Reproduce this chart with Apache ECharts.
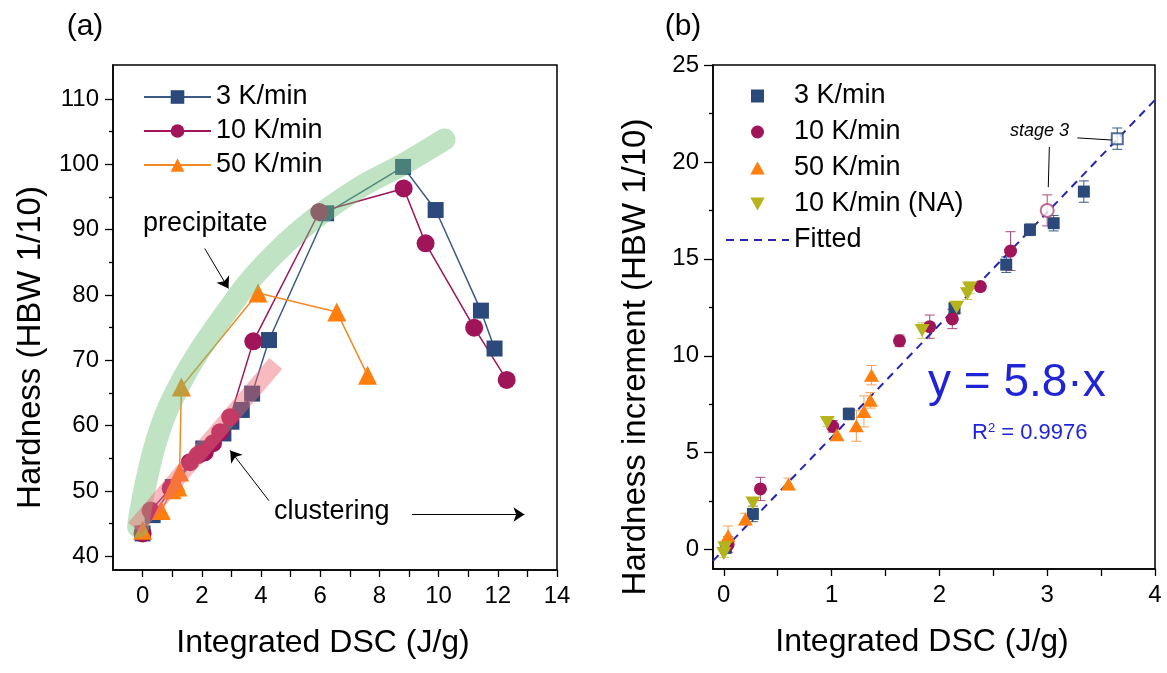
<!DOCTYPE html>
<html>
<head>
<meta charset="utf-8">
<script src="https://cdn.jsdelivr.net/npm/echarts@6/dist/echarts.min.js"></script>
<style>
  html, body { margin: 0; padding: 0; background: #fff; }
  #chart { width: 1167px; height: 673px; }
</style>
</head>
<body>
<div id="chart"></div>
<script>
// ---------- panel (a): hardness vs integrated DSC ----------
const k3X  = [0, 0.34, 1.02, 2.05, 2.73, 3.0, 3.35, 3.7, 4.27, 6.2, 8.8, 9.9, 11.43, 11.89];
const k3Y  = [43.5, 46.3, 50.6, 56.5, 58.8, 60.6, 62.4, 64.9, 73.1, 92.5, 99.6, 93.0, 77.6, 71.8];
const k10X = [0, 0.27, 0.95, 1.6, 1.87, 2.1, 2.38, 2.62, 2.96, 3.74, 5.97, 8.82, 9.56, 11.2, 12.3];
const k10Y = [43.5, 47.0, 50.4, 54.4, 55.5, 55.9, 57.3, 59.0, 61.3, 72.9, 92.7, 96.3, 87.9, 75.0, 67.0];
const k50X = [0, 0.63, 1.0, 1.12, 1.19, 1.25, 1.31, 3.9, 6.56, 7.6];
const k50Y = [44.0, 47.0, 50.2, 51.4, 50.6, 52.9, 65.9, 80.3, 77.4, 67.7];
// shaded guide bands
const greenBandX = [-0.15, -0.08, 0.1, 0.4, 0.8, 1.4, 2.0, 2.8, 3.5, 4.4, 5.3, 6.2, 7.5, 8.8, 10.2];
const greenBandY = [44.5, 46.8, 51, 56.7, 62, 67.5, 72, 77.2, 81.5, 86, 89.8, 93, 96.9, 100, 103.8];
const pinkBandX = [-0.27, 4.5];
const pinkBandY = [44.3, 69.5];
const aMajorY = [40, 50, 60, 70, 80, 90, 100, 110];
const aMinorY = [45, 55, 65, 75, 85, 95, 105];
const aTickX  = [0, 1, 2, 3, 4, 5, 6, 7, 8, 9, 10, 11, 12, 13, 14];
const aLabelX = [0, 2, 4, 6, 8, 10, 12, 14];

// ---------- panel (b): hardness increment vs integrated DSC ----------
// [x, y, error]
const b3  = [[0.02, 0.1, 0.3], [0.27, 1.84, 0.4], [1.16, 7.0, 0.3], [2.14, 12.45, 0.3],
             [2.62, 14.7, 0.4], [2.84, 16.5, 0.3], [3.06, 16.84, 0.4], [3.34, 18.47, 0.55]];
const b3Stage  = [[3.65, 21.2, 0.55]];
const b10 = [[0.04, 0.26, 0.4], [0.34, 3.13, 0.6], [1.01, 6.36, 0.3], [1.63, 10.77, 0.3],
             [1.91, 11.5, 0.6], [2.12, 11.9, 0.5], [2.38, 13.57, 0.2], [2.66, 15.4, 1.0]];
const b10Stage = [[3.0, 17.5, 0.8]];
const b50 = [[0.04, 0.72, 0.5], [0.2, 1.58, 0.3], [0.6, 3.39, 0.3], [1.05, 5.93, 0.3],
             [1.23, 6.39, 0.8], [1.30, 7.13, 0.8], [1.36, 7.7, 0.4], [1.37, 9.0, 0.5]];
const bNA = [[0.0, -0.2, 0.2], [0.01, 0.1, 0.2], [0.27, 2.41, 0.2], [0.96, 6.56, 0.2],
             [1.84, 11.3, 0.4], [2.16, 12.5, 0.3], [2.26, 13.2, 0.3], [2.28, 13.5, 0.3]];
const fitLine = [[-0.1, -0.58], [4.0, 23.2]];
const bMajorY = [0, 5, 10, 15, 20, 25];
const bMinorY = [2.5, 7.5, 12.5, 17.5, 22.5];
const bTickX  = [0, 0.5, 1, 1.5, 2, 2.5, 3, 3.5, 4];
const bLabelX = [0, 1, 2, 3, 4];

const FONT = 'Liberation Sans';
const zip = (xs, ys) => xs.map((x, i) => [x, ys[i]]);

const C3 = '#2b4a7b', C10 = '#a0145a', C50 = '#ff7f0e', CNA = '#b5b41c';
const square  = 'path://M0,0 L10,0 L10,10 L0,10 Z';
const upTri   = 'path://M5,0 L10,9 L0,9 Z';
const downTri = 'path://M0,0 L10,0 L5,9 Z';

function baseX(gridIndex, min, max, ticks, labels) {
    return {
        type: 'value', gridIndex, min, max,
        name: 'Integrated DSC (J/g)', nameLocation: 'middle', nameGap: 57,
        nameTextStyle: { fontSize: 32, color: '#000', fontFamily: FONT, padding: [0, 24, 0, 0] },
        axisLine: { onZero: false, lineStyle: { color: '#000', width: 1.5 } },
        axisTick: { customValues: ticks, length: 7, lineStyle: { color: '#000', width: 1.3 } },
        axisLabel: { customValues: labels, fontSize: 24, color: '#000', fontFamily: FONT, margin: 14 },
        splitLine: { show: false }
    };
}
function baseY(gridIndex, min, max, ticks, name, gap, len, shift) {
    return {
        type: 'value', gridIndex, min, max, position: 'left',
        name, nameLocation: 'middle', nameGap: gap,
        nameTextStyle: { fontSize: 33, color: '#000', fontFamily: FONT, padding: [0, shift, 0, 0] },
        axisLine: { onZero: false, lineStyle: { color: '#000', width: 1.5 } },
        axisTick: { customValues: ticks, length: len, lineStyle: { color: '#000', width: 1.3 } },
        axisLabel: { customValues: ticks, fontSize: 24, color: '#000', fontFamily: FONT, margin: 14 },
        splitLine: { show: false }
    };
}
function minorY(gridIndex, min, max, ticks) {
    return {
        type: 'value', gridIndex, min, max, position: 'left',
        axisLine: { show: false, onZero: false },
        axisTick: { customValues: ticks, length: 4, lineStyle: { color: '#000', width: 1.3 } },
        axisLabel: { show: false },
        splitLine: { show: false }
    };
}

function errBars(color) {
    return function (params, api) {
        const x = api.value(0), y = api.value(1), e = api.value(2);
        const t = api.coord([x, y + e]), b = api.coord([x, y - e]);
        const w = 5;
        const st = { stroke: color, lineWidth: 1 };
        return {
            type: 'group', children: [
                { type: 'line', shape: { x1: t[0], y1: t[1], x2: b[0], y2: b[1] }, style: st },
                { type: 'line', shape: { x1: t[0] - w, y1: t[1], x2: t[0] + w, y2: t[1] }, style: st },
                { type: 'line', shape: { x1: b[0] - w, y1: b[1], x2: b[0] + w, y2: b[1] }, style: st }
            ]
        };
    };
}
function errSeries(data, color) {
    return {
        type: 'custom', xAxisIndex: 1, yAxisIndex: 2, data, silent: true, z: 1,
        encode: { x: 0, y: 1 }, renderItem: errBars(color)
    };
}

const chart = echarts.init(document.getElementById('chart'));
chart.setOption({
    animation: false,
    backgroundColor: '#fff',
    textStyle: { fontFamily: FONT },
    grid: [
        { left: 113, right: 610, top: 65, bottom: 103, show: true, borderColor: '#000', borderWidth: 1.5 },
        { left: 713, right: 12, top: 65, bottom: 104, show: true, borderColor: '#000', borderWidth: 1.5 }
    ],
    xAxis: [
        baseX(0, -1, 14, aTickX, aLabelX),
        baseX(1, -0.1, 4, bTickX, bLabelX)
    ],
    yAxis: [
        baseY(0, 37.9, 115.2, aMajorY, 'Hardness (HBW 1/10)', 66, 8, 60),
        minorY(0, 37.9, 115.2, aMinorY),
        baseY(1, -1, 25, bMajorY, 'Hardness increment (HBW 1/10)', 61, 9, 80),
        minorY(1, -1, 25, bMinorY)
    ],
    legend: [
        {
            orient: 'vertical', left: 138, top: 77, itemWidth: 67, itemHeight: 17, itemGap: 4,
            data: ['3 K/min', '10 K/min', '50 K/min'],
            textStyle: { fontSize: 27, color: '#000', fontFamily: FONT, lineHeight: 30 }
        },
        {
            orient: 'vertical', left: 720, top: 75, itemWidth: 63, itemHeight: 13, itemGap: 4,
            data: ['b:3 K/min', 'b:10 K/min', 'b:50 K/min', 'b:10 K/min (NA)',
                   { name: 'b:Fitted', itemStyle: { opacity: 0 } }],
            formatter: n => n.replace('b:', ''),
            textStyle: { fontSize: 27, color: '#000', fontFamily: FONT, lineHeight: 32 }
        }
    ],
    graphic: [
        { type: 'text', x: 85, y: 27, style: { text: '(a)', fontSize: 30, fontFamily: FONT, fill: '#000', align: 'center', verticalAlign: 'middle' } },
        { type: 'text', x: 683, y: 27, style: { text: '(b)', fontSize: 30, fontFamily: FONT, fill: '#000', align: 'center', verticalAlign: 'middle' } },
        { type: 'text', x: 143, y: 224, style: { text: 'precipitate', fontSize: 27, fontFamily: FONT, fill: '#000', align: 'left', verticalAlign: 'middle' } },
        { type: 'text', x: 274, y: 512, style: { text: 'clustering', fontSize: 27, fontFamily: FONT, fill: '#000', align: 'left', verticalAlign: 'middle' } },
        { type: 'text', x: 1010, y: 131, style: { text: 'stage 3', fontSize: 18, fontStyle: 'italic', fontFamily: FONT, fill: '#000', align: 'left', verticalAlign: 'middle' } },
        { type: 'text', x: 928, y: 383, style: { text: 'y = 5.8·x', fontSize: 46, fontFamily: FONT, fill: '#1f24d6', align: 'left', verticalAlign: 'middle' } },
        {
            type: 'text', x: 972, y: 433, style: {
                text: '{a|R}{s|2}{a| = 0.9976}', fontFamily: FONT, fill: '#1f24d6', align: 'left', verticalAlign: 'middle',
                rich: {
                    a: { fontSize: 22, fontFamily: FONT, fill: '#1f24d6' },
                    s: { fontSize: 13, fontFamily: FONT, fill: '#1f24d6', verticalAlign: 'top' }
                }
            }
        }
    ],
    series: [
        // ---- panel (a)
        {
            name: '3 K/min', type: 'line', xAxisIndex: 0, yAxisIndex: 0, data: zip(k3X, k3Y),
            symbol: 'rect', symbolSize: 16, itemStyle: { color: C3 },
            lineStyle: { color: '#3a5a82', width: 1.5 }, z: 3
        },
        {
            name: '10 K/min', type: 'line', xAxisIndex: 0, yAxisIndex: 0, data: zip(k10X, k10Y),
            symbol: 'circle', symbolSize: 18, itemStyle: { color: C10 },
            lineStyle: { color: C10, width: 1.5 }, z: 3
        },
        {
            name: '50 K/min', type: 'line', xAxisIndex: 0, yAxisIndex: 0, data: zip(k50X, k50Y),
            symbol: 'triangle', symbolSize: 19, itemStyle: { color: C50 },
            lineStyle: { color: '#f08a24', width: 1.5 }, z: 3
        },
        {
            type: 'line', xAxisIndex: 0, yAxisIndex: 0, data: zip(greenBandX, greenBandY), smooth: 0.3,
            symbol: 'none', silent: true, z: 5,
            lineStyle: { color: 'rgba(113,193,122,0.45)', width: 22, cap: 'round', join: 'round' }
        },
        {
            type: 'line', xAxisIndex: 0, yAxisIndex: 0, data: zip(pinkBandX, pinkBandY),
            symbol: 'none', silent: true, z: 5,
            lineStyle: { color: 'rgba(238,105,112,0.45)', width: 17, cap: 'butt' }
        },
        {
            // annotation arrows
            type: 'scatter', xAxisIndex: 0, yAxisIndex: 0, data: [], silent: true, z: 6,
            itemStyle: { color: '#000' },
            markLine: {
                silent: true, symbol: ['none', 'arrow'], symbolSize: 11,
                label: { show: false }, itemStyle: { color: '#000' },
                lineStyle: { color: '#000', width: 1, type: 'solid' },
                data: [
                    [{ coord: [2.1, 87.1] }, { coord: [2.9, 81.0] }],
                    [{ coord: [4.27, 48.5] }, { coord: [2.96, 56.2] }],
                    [{ coord: [9.1, 46.4] }, { coord: [12.9, 46.4] }]
                ]
            }
        },
        // ---- panel (b)
        errSeries(b3.concat(b3Stage), '#3a5a82'),
        errSeries(b10.concat(b10Stage), '#b0487c'),
        errSeries(b50, '#f2a25a'),
        errSeries(bNA, '#c8c860'),
        {
            name: 'b:Fitted', type: 'line', xAxisIndex: 1, yAxisIndex: 2, data: fitLine,
            symbol: 'none', silent: true, z: 2, itemStyle: { color: '#2424b0' },
            lineStyle: { color: '#2424b0', width: 2, type: [8, 6] },
            markLine: {
                silent: true, symbol: ['none', 'none'], label: { show: false },
                lineStyle: { color: '#000', width: 1, type: 'solid' },
                data: [
                    [{ coord: [3.28, 21.24] }, { coord: [3.6, 21.13] }],
                    [{ coord: [3.02, 20.77] }, { coord: [3.01, 18.7] }]
                ]
            }
        },
        {
            name: 'b:3 K/min', type: 'scatter', xAxisIndex: 1, yAxisIndex: 2, data: b3,
            symbol: square, symbolSize: 12, itemStyle: { color: C3, opacity: 1 }, z: 3
        },
        {
            name: 'b:10 K/min', type: 'scatter', xAxisIndex: 1, yAxisIndex: 2, data: b10,
            symbol: 'circle', symbolSize: 13, itemStyle: { color: C10, opacity: 1 }, z: 3
        },
        {
            name: 'b:50 K/min', type: 'scatter', xAxisIndex: 1, yAxisIndex: 2, data: b50,
            symbol: upTri, symbolSize: [15, 13], itemStyle: { color: C50, opacity: 1 }, z: 3
        },
        {
            name: 'b:10 K/min (NA)', type: 'scatter', xAxisIndex: 1, yAxisIndex: 2, data: bNA,
            symbol: downTri, symbolSize: [15, 13], itemStyle: { color: CNA, opacity: 1 }, z: 3
        },
        {
            type: 'scatter', xAxisIndex: 1, yAxisIndex: 2, data: b3Stage,
            symbol: 'emptyRect', symbolSize: 11, itemStyle: { color: C3, borderWidth: 1 }, z: 3
        },
        {
            type: 'scatter', xAxisIndex: 1, yAxisIndex: 2, data: b10Stage,
            symbol: 'emptyCircle', symbolSize: 13, itemStyle: { color: '#b0487c', borderWidth: 1.2 }, z: 3
        }
    ]
});
window.addEventListener('resize', () => chart.resize());
</script>
</body>
</html>
